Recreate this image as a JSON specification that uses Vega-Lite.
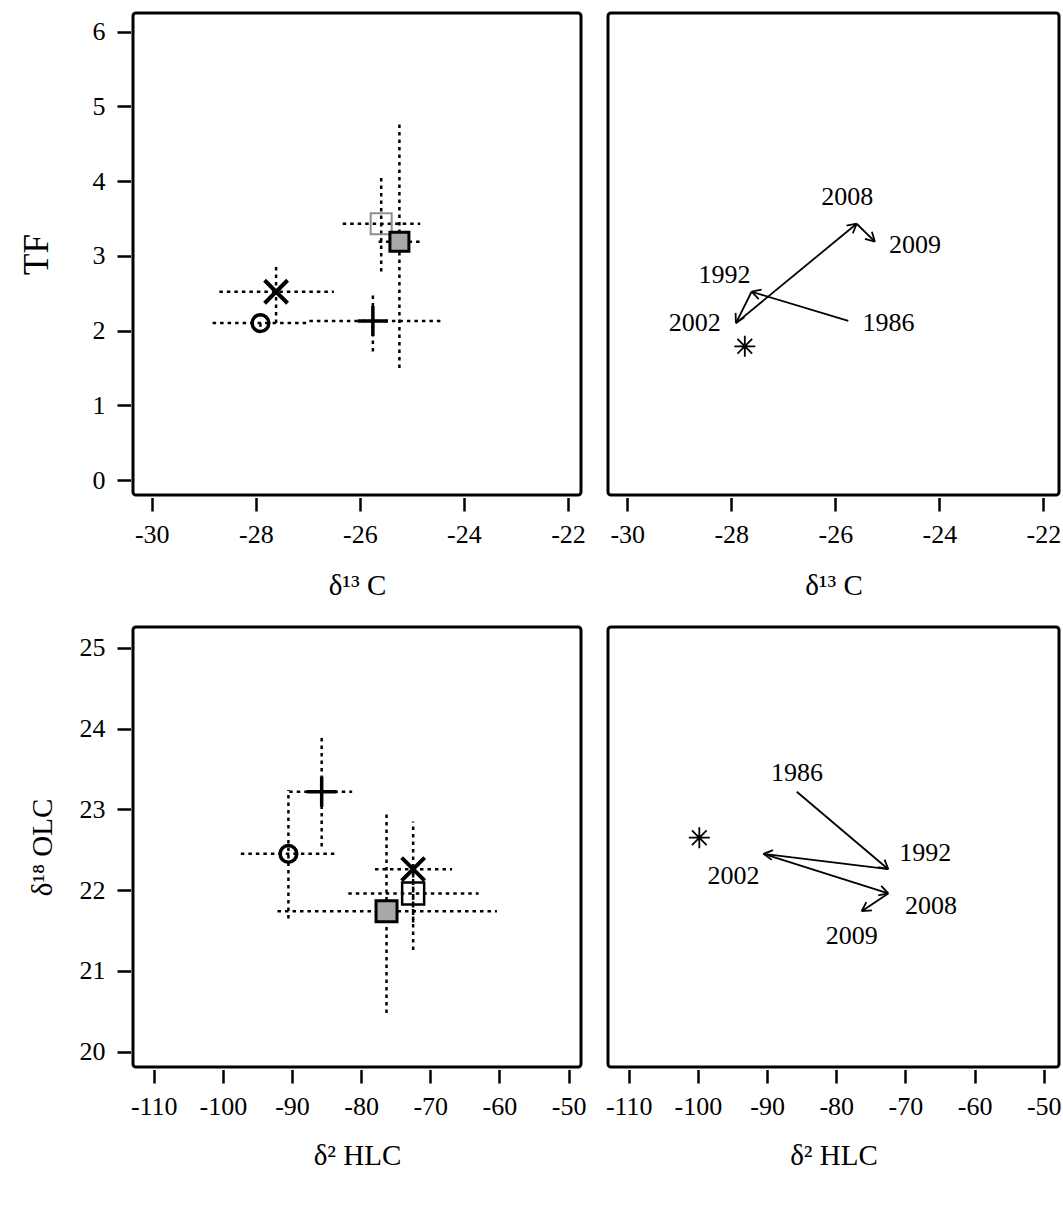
{
  "$schema": "https://vega.github.io/schema/vega-lite/v6.json",
  "background": "white",
  "padding": {"left": 17, "top": 11, "right": 0, "bottom": 0},
  "columns": 2,
  "spacing": {"row": 23, "column": 15},
  "config": {
    "font": "Liberation Serif",
    "view": {"stroke": "black", "strokeWidth": 3, "cornerRadius": 3},
    "axis": {"domain": false, "grid": false, "ticks": true, "tickColor": "black", "tickWidth": 2.5, "tickSize": 13.5, "offset": 2.5,
      "labelFont": "Liberation Serif", "labelFontSize": 26, "labelColor": "black", "labelPadding": 10, "labelFlush": false, "labelOverlap": false,
      "labelExpr": "'' + datum.value",
      "titleFont": "Liberation Serif", "titleFontSize": 29, "titleFontWeight": "normal", "titleColor": "black"},
    "axisY": {"labelPadding": 12}
  },
  "datasets": {
    "m13": [
      {"yr": "1986", "x": -25.75, "y": 2.13, "xlo": -26.97, "xhi": -24.45, "ylo": 1.72, "yhi": 2.51},
      {"yr": "1992", "x": -27.61, "y": 2.52, "xlo": -28.70, "xhi": -26.50, "ylo": 2.10, "yhi": 2.90},
      {"yr": "2002", "x": -27.91, "y": 2.10, "xlo": -28.83, "xhi": -27.00, "ylo": 2.05, "yhi": 2.15},
      {"yr": "2008", "x": -25.59, "y": 3.43, "xlo": -26.33, "xhi": -24.84, "ylo": 2.79, "yhi": 4.06},
      {"yr": "2009", "x": -25.24, "y": 3.19, "xlo": -25.64, "xhi": -24.84, "ylo": 1.50, "yhi": 4.78}
    ],
    "mH": [
      {"yr": "1986", "x": -85.71, "y": 23.22, "xlo": -90.4, "xhi": -81.3, "ylo": 22.54, "yhi": 23.92},
      {"yr": "1992", "x": -72.48, "y": 22.26, "xlo": -78.0, "xhi": -66.85, "ylo": 21.26, "yhi": 22.85},
      {"yr": "2002", "x": -90.52, "y": 22.45, "xlo": -97.4, "xhi": -83.6, "ylo": 21.65, "yhi": 23.24},
      {"yr": "2008", "x": -72.48, "y": 21.96, "xlo": -81.86, "xhi": -63.0, "ylo": 21.6, "yhi": 22.3},
      {"yr": "2009", "x": -76.33, "y": 21.74, "xlo": -92.1, "xhi": -60.36, "ylo": 20.48, "yhi": 22.97}
    ],
    "arr13": [
      {"from": "1986", "to": "1992", "x": -25.75, "y": 2.13, "xe": -27.61, "ye": 2.52},
      {"from": "1992", "to": "2002", "x": -27.61, "y": 2.52, "xe": -27.91, "ye": 2.10},
      {"from": "2002", "to": "2008", "x": -27.91, "y": 2.10, "xe": -25.59, "ye": 3.43},
      {"from": "2008", "to": "2009", "x": -25.59, "y": 3.43, "xe": -25.24, "ye": 3.19}
    ],
    "arrH": [
      {"from": "1986", "to": "1992", "x": -85.71, "y": 23.22, "xe": -72.48, "ye": 22.26},
      {"from": "1992", "to": "2002", "x": -72.48, "y": 22.26, "xe": -90.52, "ye": 22.45},
      {"from": "2002", "to": "2008", "x": -90.52, "y": 22.45, "xe": -72.48, "ye": 21.96},
      {"from": "2008", "to": "2009", "x": -72.48, "y": 21.96, "xe": -76.33, "ye": 21.74}
    ],
    "lab13": [
      {"yr": "1986", "lx": -24.98, "ly": 2.10},
      {"yr": "1992", "lx": -28.13, "ly": 2.75},
      {"yr": "2002", "lx": -28.70, "ly": 2.10},
      {"yr": "2008", "lx": -25.77, "ly": 3.79},
      {"yr": "2009", "lx": -24.47, "ly": 3.15}
    ],
    "labH": [
      {"yr": "1986", "lx": -85.66, "ly": 23.45},
      {"yr": "1992", "lx": -67.14, "ly": 22.46},
      {"yr": "2002", "lx": -94.85, "ly": 22.17},
      {"yr": "2008", "lx": -66.32, "ly": 21.80},
      {"yr": "2009", "lx": -77.76, "ly": 21.43}
    ],
    "ast13": [{"x": -27.74, "y": 1.79}],
    "astH": [{"x": -99.8, "y": 22.65}]
  },
  "concat": [
    {
      "width": 448, "height": 482,
      "layer": [
        {"data": {"name": "m13"}, "mark": {"type": "rule", "strokeDash": [3.5, 4], "strokeWidth": 2.5, "color": "black"},
         "encoding": {
           "x": {"field": "xlo", "type": "quantitative", "title": "δ¹³ C", "scale": {"domain": [-30.36, -21.75], "nice": false, "zero": false}, "axis": {"values": [-30, -28, -26, -24, -22], "titlePadding": 24}},
           "x2": {"field": "xhi"},
           "y": {"field": "y", "type": "quantitative", "title": "TF", "scale": {"domain": [-0.2, 6.25], "nice": false, "zero": false}, "axis": {"values": [0, 1, 2, 3, 4, 5, 6], "titlePadding": 38, "titleFontSize": 35}}}},
        {"data": {"name": "m13"}, "mark": {"type": "rule", "strokeDash": [3.5, 4], "strokeWidth": 2.5, "color": "black"},
         "encoding": {
           "x": {"field": "x", "type": "quantitative", "title": "δ¹³ C"},
           "y": {"field": "ylo", "type": "quantitative", "title": "TF"},
           "y2": {"field": "yhi"}}},
        {"data": {"name": "m13"},
         "encoding": {"x": {"field": "x", "type": "quantitative", "title": "δ¹³ C"}, "y": {"field": "y", "type": "quantitative", "title": "TF"}},
         "layer": [
           {"transform": [{"filter": "datum.yr == '1986'"}], "mark": {"type": "point", "shape": "M-1,0L1,0M0,-1L0,1", "size": 900, "filled": false, "color": "black", "strokeWidth": 3.5, "opacity": 1}},
           {"transform": [{"filter": "datum.yr == '1992'"}], "mark": {"type": "point", "shape": "M-1,-1L1,1M-1,1L1,-1", "size": 529, "filled": false, "color": "black", "strokeWidth": 4, "opacity": 1}},
           {"transform": [{"filter": "datum.yr == '2002'"}], "mark": {"type": "point", "shape": "circle", "size": 280, "filled": false, "color": "black", "strokeWidth": 3.5, "opacity": 1}},
           {"transform": [{"filter": "datum.yr == '2008'"}], "mark": {"type": "point", "shape": "square", "size": 441, "filled": false, "color": "#8f8f8f", "strokeWidth": 2, "opacity": 1}},
           {"transform": [{"filter": "datum.yr == '2009'"}], "mark": {"type": "point", "shape": "square", "size": 361, "filled": true, "fill": "#a8a8a8", "stroke": "black", "strokeWidth": 3, "opacity": 1}}
         ]},
        {"mark": {"type": "text", "text": "a", "fontSize": 28, "align": "right", "baseline": "alphabetic", "color": "black"},
         "encoding": {"x": {"datum": -22.07, "type": "quantitative", "title": "δ¹³ C"}, "y": {"datum": 5.72, "type": "quantitative", "title": "TF"}}}
      ]
    },
    {
      "width": 451, "height": 482,
      "layer": [
        {"data": {"name": "arr13"}, "mark": {"type": "rule", "strokeWidth": 1.8, "color": "black"},
         "encoding": {
           "x": {"field": "x", "type": "quantitative", "title": "δ¹³ C", "scale": {"domain": [-30.37, -21.7], "nice": false, "zero": false}, "axis": {"values": [-30, -28, -26, -24, -22], "titlePadding": 24}},
           "x2": {"field": "xe"},
           "y": {"field": "y", "type": "quantitative", "scale": {"domain": [-0.2, 6.25], "nice": false, "zero": false}, "axis": null},
           "y2": {"field": "ye"}}},
        {"data": {"name": "arr13"},
         "transform": [{"calculate": "atan2(-(datum.ye - datum.y) * 74.67, (datum.xe - datum.x) * 52.0) * 180 / PI", "as": "ang"}],
         "mark": {"type": "point", "shape": "M0,0L-1,-0.55M0,0L-1,0.55", "size": 324, "filled": false, "color": "black", "strokeWidth": 1.8, "opacity": 1},
         "encoding": {
           "x": {"field": "xe", "type": "quantitative", "title": "δ¹³ C"},
           "y": {"field": "ye", "type": "quantitative", "axis": null},
           "angle": {"field": "ang", "type": "quantitative", "scale": null}}},
        {"data": {"name": "ast13"},
         "mark": {"type": "point", "shape": "M0,-1L0,1M-1,0L1,0M-0.7,-0.7L0.7,0.7M-0.7,0.7L0.7,-0.7", "size": 441, "filled": false, "color": "black", "strokeWidth": 1.8, "opacity": 1},
         "encoding": {"x": {"field": "x", "type": "quantitative", "title": "δ¹³ C"}, "y": {"field": "y", "type": "quantitative", "axis": null}}},
        {"data": {"name": "lab13"},
         "mark": {"type": "text", "fontSize": 26, "align": "center", "baseline": "middle", "color": "black"},
         "encoding": {"x": {"field": "lx", "type": "quantitative", "title": "δ¹³ C"}, "y": {"field": "ly", "type": "quantitative", "axis": null}, "text": {"field": "yr"}}},
        {"mark": {"type": "text", "text": "b", "fontSize": 28, "align": "right", "baseline": "alphabetic", "color": "black"},
         "encoding": {"x": {"datum": -22.0, "type": "quantitative", "title": "δ¹³ C"}, "y": {"datum": 5.72, "type": "quantitative", "axis": null}}}
      ]
    },
    {
      "width": 448, "height": 440,
      "layer": [
        {"data": {"name": "mH"}, "mark": {"type": "rule", "strokeDash": [3.5, 4], "strokeWidth": 2.5, "color": "black"},
         "encoding": {
           "x": {"field": "xlo", "type": "quantitative", "title": "δ² HLC", "scale": {"domain": [-113.0, -48.2], "nice": false, "zero": false}, "axis": {"values": [-110, -100, -90, -80, -70, -60, -50], "titlePadding": 22}},
           "x2": {"field": "xhi"},
           "y": {"field": "y", "type": "quantitative", "title": "δ¹⁸ OLC", "scale": {"domain": [19.81, 25.26], "nice": false, "zero": false}, "axis": {"values": [20, 21, 22, 23, 24, 25], "titlePadding": 22}}}},
        {"data": {"name": "mH"}, "mark": {"type": "rule", "strokeDash": [3.5, 4], "strokeWidth": 2.5, "color": "black"},
         "encoding": {
           "x": {"field": "x", "type": "quantitative", "title": "δ² HLC"},
           "y": {"field": "ylo", "type": "quantitative", "title": "δ¹⁸ OLC"},
           "y2": {"field": "yhi"}}},
        {"data": {"name": "mH"},
         "encoding": {"x": {"field": "x", "type": "quantitative", "title": "δ² HLC"}, "y": {"field": "y", "type": "quantitative", "title": "δ¹⁸ OLC"}},
         "layer": [
           {"transform": [{"filter": "datum.yr == '1986'"}], "mark": {"type": "point", "shape": "M-1,0L1,0M0,-1L0,1", "size": 900, "filled": false, "color": "black", "strokeWidth": 3.5, "opacity": 1}},
           {"transform": [{"filter": "datum.yr == '1992'"}], "mark": {"type": "point", "shape": "M-1,-1L1,1M-1,1L1,-1", "size": 529, "filled": false, "color": "black", "strokeWidth": 4, "opacity": 1}},
           {"transform": [{"filter": "datum.yr == '2002'"}], "mark": {"type": "point", "shape": "circle", "size": 280, "filled": false, "color": "black", "strokeWidth": 3.5, "opacity": 1}},
           {"transform": [{"filter": "datum.yr == '2008'"}], "mark": {"type": "point", "shape": "square", "size": 484, "filled": false, "color": "black", "strokeWidth": 2.5, "opacity": 1}},
           {"transform": [{"filter": "datum.yr == '2009'"}], "mark": {"type": "point", "shape": "square", "size": 441, "filled": true, "fill": "#a8a8a8", "stroke": "black", "strokeWidth": 3, "opacity": 1}}
         ]},
        {"mark": {"type": "text", "text": "c", "fontSize": 28, "align": "right", "baseline": "alphabetic", "color": "black"},
         "encoding": {"x": {"datum": -50.55, "type": "quantitative", "title": "δ² HLC"}, "y": {"datum": 24.86, "type": "quantitative", "title": "δ¹⁸ OLC"}}}
      ]
    },
    {
      "width": 451, "height": 440,
      "layer": [
        {"data": {"name": "arrH"}, "mark": {"type": "rule", "strokeWidth": 1.8, "color": "black"},
         "encoding": {
           "x": {"field": "x", "type": "quantitative", "title": "δ² HLC", "scale": {"domain": [-113.0, -47.8], "nice": false, "zero": false}, "axis": {"values": [-110, -100, -90, -80, -70, -60, -50], "titlePadding": 22}},
           "x2": {"field": "xe"},
           "y": {"field": "y", "type": "quantitative", "scale": {"domain": [19.81, 25.26], "nice": false, "zero": false}, "axis": null},
           "y2": {"field": "ye"}}},
        {"data": {"name": "arrH"},
         "transform": [{"calculate": "atan2(-(datum.ye - datum.y) * 80.8, (datum.xe - datum.x) * 6.92) * 180 / PI", "as": "ang"}],
         "mark": {"type": "point", "shape": "M0,0L-1,-0.55M0,0L-1,0.55", "size": 324, "filled": false, "color": "black", "strokeWidth": 1.8, "opacity": 1},
         "encoding": {
           "x": {"field": "xe", "type": "quantitative", "title": "δ² HLC"},
           "y": {"field": "ye", "type": "quantitative", "axis": null},
           "angle": {"field": "ang", "type": "quantitative", "scale": null}}},
        {"data": {"name": "astH"},
         "mark": {"type": "point", "shape": "M0,-1L0,1M-1,0L1,0M-0.7,-0.7L0.7,0.7M-0.7,0.7L0.7,-0.7", "size": 441, "filled": false, "color": "black", "strokeWidth": 1.8, "opacity": 1},
         "encoding": {"x": {"field": "x", "type": "quantitative", "title": "δ² HLC"}, "y": {"field": "y", "type": "quantitative", "axis": null}}},
        {"data": {"name": "labH"},
         "mark": {"type": "text", "fontSize": 26, "align": "center", "baseline": "middle", "color": "black"},
         "encoding": {"x": {"field": "lx", "type": "quantitative", "title": "δ² HLC"}, "y": {"field": "ly", "type": "quantitative", "axis": null}, "text": {"field": "yr"}}},
        {"mark": {"type": "text", "text": "d", "fontSize": 28, "align": "right", "baseline": "alphabetic", "color": "black"},
         "encoding": {"x": {"datum": -50.1, "type": "quantitative", "title": "δ² HLC"}, "y": {"datum": 24.86, "type": "quantitative", "axis": null}}}
      ]
    }
  ]
}
